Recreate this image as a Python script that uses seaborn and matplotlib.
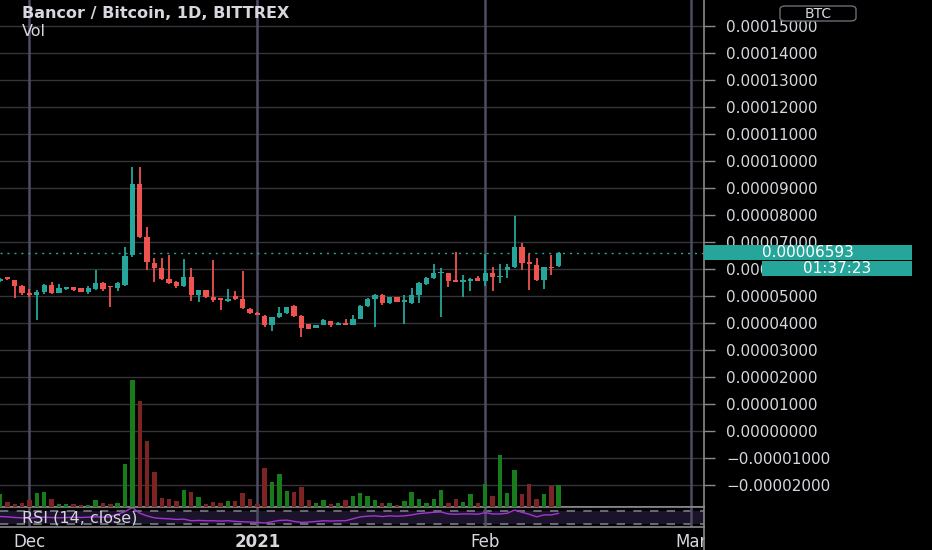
import numpy as np
import pandas as pd
import matplotlib
matplotlib.use('Agg')
import matplotlib.pyplot as plt
import matplotlib.dates as mdates
import matplotlib.transforms as mtransforms
from matplotlib.patches import Rectangle, FancyBboxPatch
from matplotlib.lines import Line2D
from matplotlib.ticker import FuncFormatter
import seaborn as sns

# daily candles, BNT/BTC, prices in satoshi (1e-8 BTC)
dates = pd.date_range('2020-11-27', periods=77, freq='D')
opens = [5556, 5700, 5593, 5370, 5111, 5037, 5148, 5407, 5111, 5259, 5333, 5296, 5148,
         5259, 5481, 5370, 5296, 5407, 6518, 9148, 7185, 6222, 6037, 5630, 5518, 5370,
         5704, 5037, 5222, 4963, 4926, 4815, 5000, 4889, 4518, 4370, 4259, 3926, 4222,
         4370, 4630, 4259, 3963, 3815, 3926, 4074, 3926, 4000, 3926, 4148, 4630, 4889,
         5037, 4741, 4963, 4778, 4741, 5037, 5444, 5667, 5852, 5852, 5593, 5518, 5556,
         5667, 5556, 5852, 5704, 5963, 6074, 6815, 6259, 6148, 5593, 6074, 6111]
highs = [5650, 5720, 5600, 5400, 5259, 5222, 5444, 5518, 5444, 5350, 5350, 5310, 5370,
         5963, 5500, 5380, 5500, 6815, 9778, 9778, 7555, 6407, 6407, 6518, 5540, 6370,
         6037, 5240, 5240, 6333, 4940, 5259, 5185, 5926, 4540, 4400, 4296, 4240, 4593,
         4610, 4680, 4280, 3980, 3940, 4130, 4090, 4020, 4148, 4296, 4650, 4910, 5060,
         5060, 4980, 4980, 5037, 5296, 5500, 5690, 6185, 6037, 5870, 6630, 5778, 5650,
         5741, 6560, 6074, 6185, 6185, 7963, 6963, 6550, 6407, 6090, 6518, 6630]
lows = [5530, 5610, 4926, 5037, 4963, 4111, 5074, 5074, 5100, 5240, 5200, 5130, 5074,
        5240, 5185, 4593, 5185, 5380, 6444, 7150, 5963, 5518, 5600, 5460, 5296, 5350,
        4815, 4778, 4940, 4790, 4481, 4790, 4870, 4530, 4350, 4280, 3852, 3704, 4200,
        4350, 4240, 3481, 3760, 3800, 3910, 3870, 3910, 3910, 3910, 4130, 4610, 3852,
        4667, 4720, 4760, 3963, 4700, 4741, 5420, 5640, 4222, 5333, 5500, 4963, 5185,
        5540, 5370, 5185, 5481, 5667, 6050, 5963, 5222, 5570, 5259, 5778, 6090]
closes = [5630, 5630, 5370, 5111, 5037, 5148, 5407, 5111, 5296, 5333, 5222, 5148, 5296,
          5481, 5259, 5333, 5481, 6481, 9148, 7185, 6259, 6037, 5630, 5481, 5370, 5704,
          5037, 5222, 4963, 4852, 4852, 4889, 4889, 4556, 4370, 4296, 3926, 4222, 4370,
          4593, 4259, 3815, 3778, 3926, 4111, 3926, 4000, 3926, 4148, 4630, 4889, 5037,
          4741, 4963, 4778, 4852, 5037, 5481, 5667, 5852, 5889, 5556, 5518, 5593, 5630,
          5556, 5852, 5704, 5720, 6074, 6815, 6222, 6185, 5593, 6074, 6037, 6593]
volumes = [13, 5, 3, 4, 7, 14, 15, 8, 3, 3, 3, 2, 2, 7, 4, 3, 4, 43, 127, 106,
           66, 35, 9, 8, 6, 17, 15, 10, 3, 5, 4, 6, 6, 14, 8, 3, 39, 25, 33, 16,
           15, 20, 7, 4, 7, 3, 4, 7, 11, 14, 11, 7, 4, 4, 2, 6, 15, 8, 4, 8,
           17, 4, 8, 5, 13, 4, 23, 11, 52, 14, 37, 13, 23, 8, 13, 21, 22]
rsi = [53, 52, 50, 49, 48, 50, 51, 50, 49, 50, 51, 50, 51, 52, 51, 52, 60, 68, 81, 63,
       55, 49, 47, 46, 44, 45, 40, 41, 40, 40, 39, 40, 38, 37, 36, 35, 33, 37, 41, 42,
       38, 35, 36, 38, 40, 39, 40, 40, 46, 52, 54, 55, 53, 55, 54, 55, 58, 62, 64, 66,
       67, 61, 60, 61, 61, 60, 65, 61, 61, 63, 73, 66, 60, 52, 58, 58, 63]

month_starts = pd.to_datetime(['2020-12-01', '2021-01-01', '2021-02-01', '2021-03-01'])
month_labels = ['Dec', '2021', 'Feb', 'Mar']
price_ticks = np.arange(-2, 16) * 1e-5

df = pd.DataFrame({'date': dates, 'open': opens, 'high': highs, 'low': lows,
                   'close': closes, 'volume': volumes, 'rsi': rsi})
for col in ['open', 'high', 'low', 'close']:
    df[col] = df[col] * 1e-8
df['up'] = df['close'] >= df['open']

UP, DOWN = '#26a69a', '#ef5350'
VUP, VDOWN = '#187c1c', '#7c2424'
GRID = '#34343c'
VLINE = '#4c4c62'
AXIS = '#8a8a8a'
TXT = '#d6d8de'

sns.set_style('dark', {'axes.facecolor': 'black', 'figure.facecolor': 'black'})
plt.rcParams['font.family'] = ['DejaVu Sans']

fig = plt.figure(figsize=(9.32, 5.5), dpi=100, facecolor='black')
ax = fig.add_axes([0, 43 / 550, 704 / 932, 507 / 550])
ax_rsi = fig.add_axes([0, 23 / 550, 704 / 932, 20 / 550], sharex=ax)

# candles
colors = np.where(df['up'], UP, DOWN)
body_lo = np.minimum(df['open'], df['close'])
body_h = np.maximum((df['close'] - df['open']).abs(), 4e-7)
ax.vlines(df['date'], df['low'], df['high'], color=colors, lw=1.3, zorder=2)
ax.bar(df['date'], body_h, bottom=body_lo, width=0.72, color=colors, lw=0, zorder=3)

# volume overlay
ax_vol = ax.twinx()
vcolors = np.where(df['up'], VUP, VDOWN)
ax_vol.bar(df['date'], df['volume'], width=0.6, color=vcolors, lw=0)
ax_vol.set_ylim(0, df['volume'].max() * 507 / 127)
ax_vol.axis('off')

x0 = mdates.date2num(pd.Timestamp('2020-12-01'))
ax.set_xlim(x0 - 4.01, x0 + 91.77)
ax.set_ylim(-2.815e-5, 15.963e-5)
ax.set_yticks(price_ticks)
ax.yaxis.set_major_formatter(FuncFormatter(
    lambda v, p: f"{v:.8f}".replace('-0.00000000', '0.00000000').replace('-', '\u2212')))
ax.yaxis.tick_right()
ax.tick_params(axis='y', colors=AXIS, labelcolor=TXT, length=8, width=1, pad=8,
               labelsize=11, left=False, labelleft=False, right=True, labelright=True)
ax.tick_params(axis='x', bottom=False, labelbottom=False)
ax.yaxis.grid(True, color=GRID, lw=1)
ax.xaxis.grid(False)
ax.set_axisbelow(True)
for s in ['left', 'top']:
    ax.spines[s].set_visible(False)
for s in ['right', 'bottom']:
    ax.spines[s].set_color(AXIS)
    ax.spines[s].set_linewidth(1.2)
for m in month_starts:
    ax.axvline(m, color=VLINE, lw=1.8, zorder=1)

last = df['close'].iloc[-1]
ax.axhline(last, color=UP, ls=(0, (1.5, 3.5)), lw=1, zorder=1)

# price label boxes on the scale
trans = mtransforms.blended_transform_factory(ax.transAxes, ax.transData)
box_h = 15 / 27 * 1e-5
ax.add_patch(Rectangle((1.0, last - box_h / 2), 208 / 704, box_h, transform=trans,
                       fc=UP, ec='none', zorder=5, clip_on=False))
ax.text(1.1477, last, f"{last:.8f}", transform=trans, ha='center', va='center',
        color='white', fontsize=11, zorder=6, clip_on=False)
ax.add_patch(Rectangle((762 / 704, last - box_h * 1.55), 150 / 704, box_h, transform=trans,
                       fc=UP, ec='none', zorder=5, clip_on=False))
ax.text(1.1889, last - box_h * 1.05, '01:37:23', transform=trans, ha='center', va='center',
        color='white', fontsize=11, zorder=6, clip_on=False)

ax.text(22 / 704, 1 - 14 / 507, 'Bancor / Bitcoin, 1D, BITTREX', transform=ax.transAxes,
        ha='left', va='center', color=TXT, fontsize=11.5, fontweight='bold')
ax.text(22 / 704, 1 - 31 / 507, 'Vol', transform=ax.transAxes,
        ha='left', va='center', color=TXT, fontsize=11.5)

# RSI pane
ax_rsi.set_facecolor('black')
ax_rsi.axhspan(30, 70, color='#7e57c2', alpha=0.22, lw=0)
ax_rsi.axhline(70, color='#787b86', ls=(0, (5, 5)), lw=1.2)
ax_rsi.axhline(30, color='#787b86', ls=(0, (5, 5)), lw=1.2)
for m in month_starts:
    ax_rsi.axvline(m, color=VLINE, lw=1.8)
sns.lineplot(data=df, x='date', y='rsi', ax=ax_rsi, color='#a236d0', lw=1)
ax_rsi.set_ylim(20.8, 82.3)
ax_rsi.set_xlabel('')
ax_rsi.set_ylabel('')
ax_rsi.set_yticks([])
ax_rsi.set_xticks(month_starts)
ax_rsi.set_xticklabels(month_labels)
ax_rsi.tick_params(axis='x', length=0, pad=4, labelsize=12, labelcolor=TXT)
ax_rsi.get_xticklabels()[1].set_fontweight('bold')
ax_rsi.spines['left'].set_visible(False)
for s in ['top', 'bottom', 'right']:
    ax_rsi.spines[s].set_color(AXIS)
    ax_rsi.spines[s].set_linewidth(1.2)
ax_rsi.grid(False)
ax_rsi.set_xlim(x0 - 4.01, x0 + 91.77)
ax_rsi.text(22 / 704, 0.45, 'RSI (14, close)', transform=ax_rsi.transAxes,
            ha='left', va='center', color=TXT, fontsize=11.5)

# hide the part of the last month label that runs under the price scale
fig.patches.append(Rectangle((705 / 932, 0), 1, 23 / 550, transform=fig.transFigure,
                             fc='black', ec='none', zorder=10))
fig.lines.append(Line2D([704 / 932, 704 / 932], [0, 23 / 550], transform=fig.transFigure,
                        color=AXIS, lw=1.2, zorder=11))

# currency badge
fig.patches.append(FancyBboxPatch((780 / 932, 1 - 21 / 550), 76 / 932, 15 / 550,
                                  boxstyle='round,pad=0,rounding_size=0.006',
                                  transform=fig.transFigure, fc='black', ec='#6a6d78',
                                  lw=1, zorder=10))
fig.text(818 / 932, 1 - 13.5 / 550, 'BTC', ha='center', va='center', color=TXT,
         fontsize=10, zorder=11)

fig.savefig('out.png', dpi=100, facecolor='black')
